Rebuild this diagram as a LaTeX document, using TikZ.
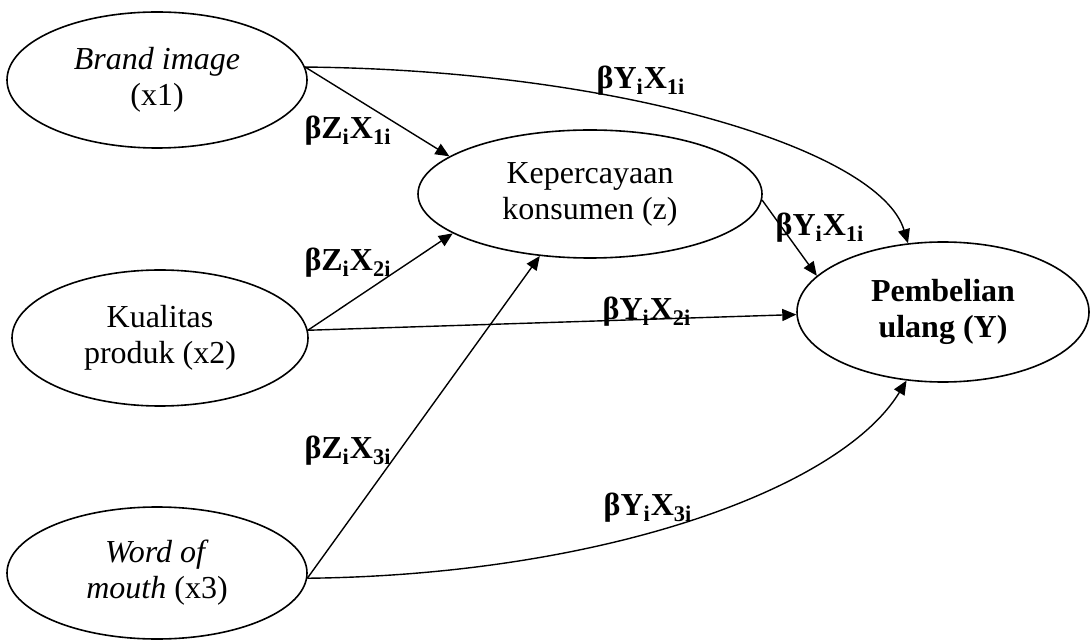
\documentclass[tikz,border=0pt]{standalone}
\usepackage{fontspec}
\setmainfont{Liberation Serif}
\usetikzlibrary{shapes, arrows.meta}

\begin{document}
\begin{tikzpicture}[x=0.5pt, y=-0.5pt, >={Triangle[length=7pt, width=6pt]}]
	\tikzstyle{latent} = [draw, ellipse, line width=0.8pt, inner sep=0pt, align=center, font=\fontsize{16}{18}\selectfont]
	\tikzstyle{coef} = [inner sep=0pt, font=\fontsize{16}{18}\selectfont\bfseries]
	\tikzstyle{link} = [->, line width=0.7pt]

	\useasboundingbox (0,0) rectangle (1091,641);

	% variabel
	\node[latent, minimum width=150pt, minimum height=68pt] (x1) at (157,80) {\textit{Brand image}\\(x1)};
	\node[latent, minimum width=148pt, minimum height=68pt] (x2) at (160,338) {Kualitas\\produk (x2)};
	\node[latent, minimum width=150pt, minimum height=66pt] (x3) at (157,573) {\textit{Word of}\\\textit{mouth} (x3)};
	\node[latent, minimum width=172pt, minimum height=64pt] (z) at (590,194) {Kepercayaan\\konsumen (z)};
	\node[latent, minimum width=146pt, minimum height=70pt, font=\fontsize{16}{18}\selectfont\bfseries] (Y) at (943,312) {Pembelian\\ulang (Y)};

	% koefisien
	\node[coef] (b1) at (641,81) {βY\textsubscript{i}X\textsubscript{1i}};
	\node[coef] (b2) at (348,131) {βZ\textsubscript{i}X\textsubscript{1i}};
	\node[coef] (b3) at (820,228) {βY\textsubscript{i}X\textsubscript{1i}};
	\node[coef] (b4) at (348,263) {βZ\textsubscript{i}X\textsubscript{2i}};
	\node[coef] (b5) at (647,312) {βY\textsubscript{i}X\textsubscript{2i}};
	\node[coef] (b6) at (348,451) {βZ\textsubscript{i}X\textsubscript{3i}};
	\node[coef] (b7) at (648,508) {βY\textsubscript{i}X\textsubscript{3i}};

	% jalur
	\draw[link] (x1.5) -- (z.165);
	\draw[link] (x2.3) -- (z.196);
	\draw[link] (x3.358) -- (z.231);
	\draw[link] (z.358) -- (Y.164);
	\draw[link] (x2.3) -- (Y.181);
	\draw[link] (x1.5) .. controls (620,70) and (880,150) .. (Y.117);
	\draw[link] (x3.358) .. controls (600,575) and (840,490) .. (Y.242);
\end{tikzpicture}
\end{document}
